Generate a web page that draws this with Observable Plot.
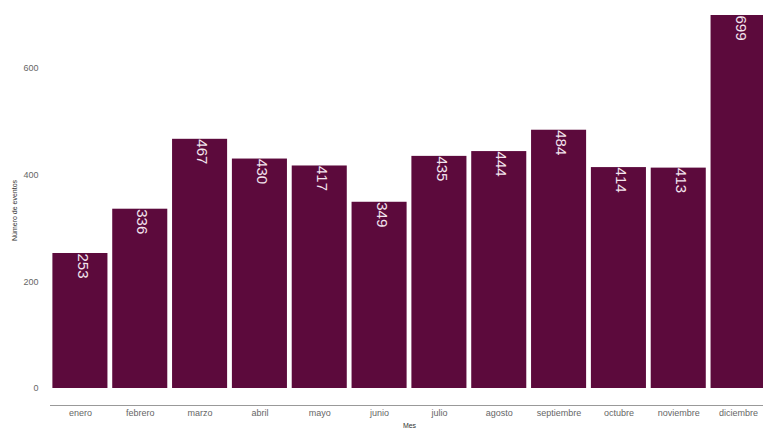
<!DOCTYPE html>
<html>
<head>
<meta charset="utf-8">
<script src="https://cdn.jsdelivr.net/npm/d3@7"></script>
<script src="https://cdn.jsdelivr.net/npm/@observablehq/plot@0.6"></script>
<style>
  html, body { margin: 0; padding: 0; background: #fff; overflow: hidden; }
  #chart { width: 763px; height: 429px; overflow: hidden; }
  #chart svg { overflow: hidden; }
</style>
</head>
<body>
<div id="chart"></div>
<script>
const months = ["enero", "febrero", "marzo", "abril", "mayo", "junio", "julio", "agosto", "septiembre", "octubre", "noviembre", "diciembre"];
const counts = [253, 336, 467, 430, 417, 349, 435, 444, 484, 414, 413, 699];
const yTicks = [0, 200, 400, 600];

const data = months.map((m, i) => ({mes: m, n: counts[i]}));

const chart = Plot.plot({
  width: 763,
  height: 429,
  marginLeft: 50,
  marginRight: -5,
  marginTop: 15,
  marginBottom: 24,
  style: {fontFamily: "Liberation Sans, Arial, sans-serif", background: "#fff"},
  x: {domain: months, paddingInner: 0.08, paddingOuter: 0.04, round: false, label: null},
  y: {domain: [0, 699], insetBottom: 17, label: null},
  marks: [
    Plot.frame({anchor: "bottom", stroke: "#999", strokeWidth: 1}),
    Plot.barY(data, {x: "mes", y: "n", fill: "#5c0a3c"}),
    Plot.text(data, {
      x: "mes", y: "n", text: d => String(d.n),
      rotate: 90, textAnchor: "start", lineAnchor: "middle",
      dx: 2, fill: "#f3e4ee", fontSize: 15
    }),
    Plot.axisX({tickSize: 0, tickPadding: 4, fontSize: 9, color: "#666", label: "Mes", labelAnchor: "center", labelArrow: "none", labelOffset: 22}),
    Plot.axisY({ticks: yTicks, tickSize: 0, tickPadding: 12, fontSize: 9, color: "#666", label: "Número de eventos", labelAnchor: "center", labelArrow: "none", labelOffset: 38})
  ]
});
chart.querySelectorAll("g[aria-label='x-axis label'] text, g[aria-label='y-axis label'] text").forEach(t => { t.setAttribute("font-size", "7"); t.setAttribute("fill", "#333"); });
document.getElementById("chart").appendChild(chart);
</script>
</body>
</html>
